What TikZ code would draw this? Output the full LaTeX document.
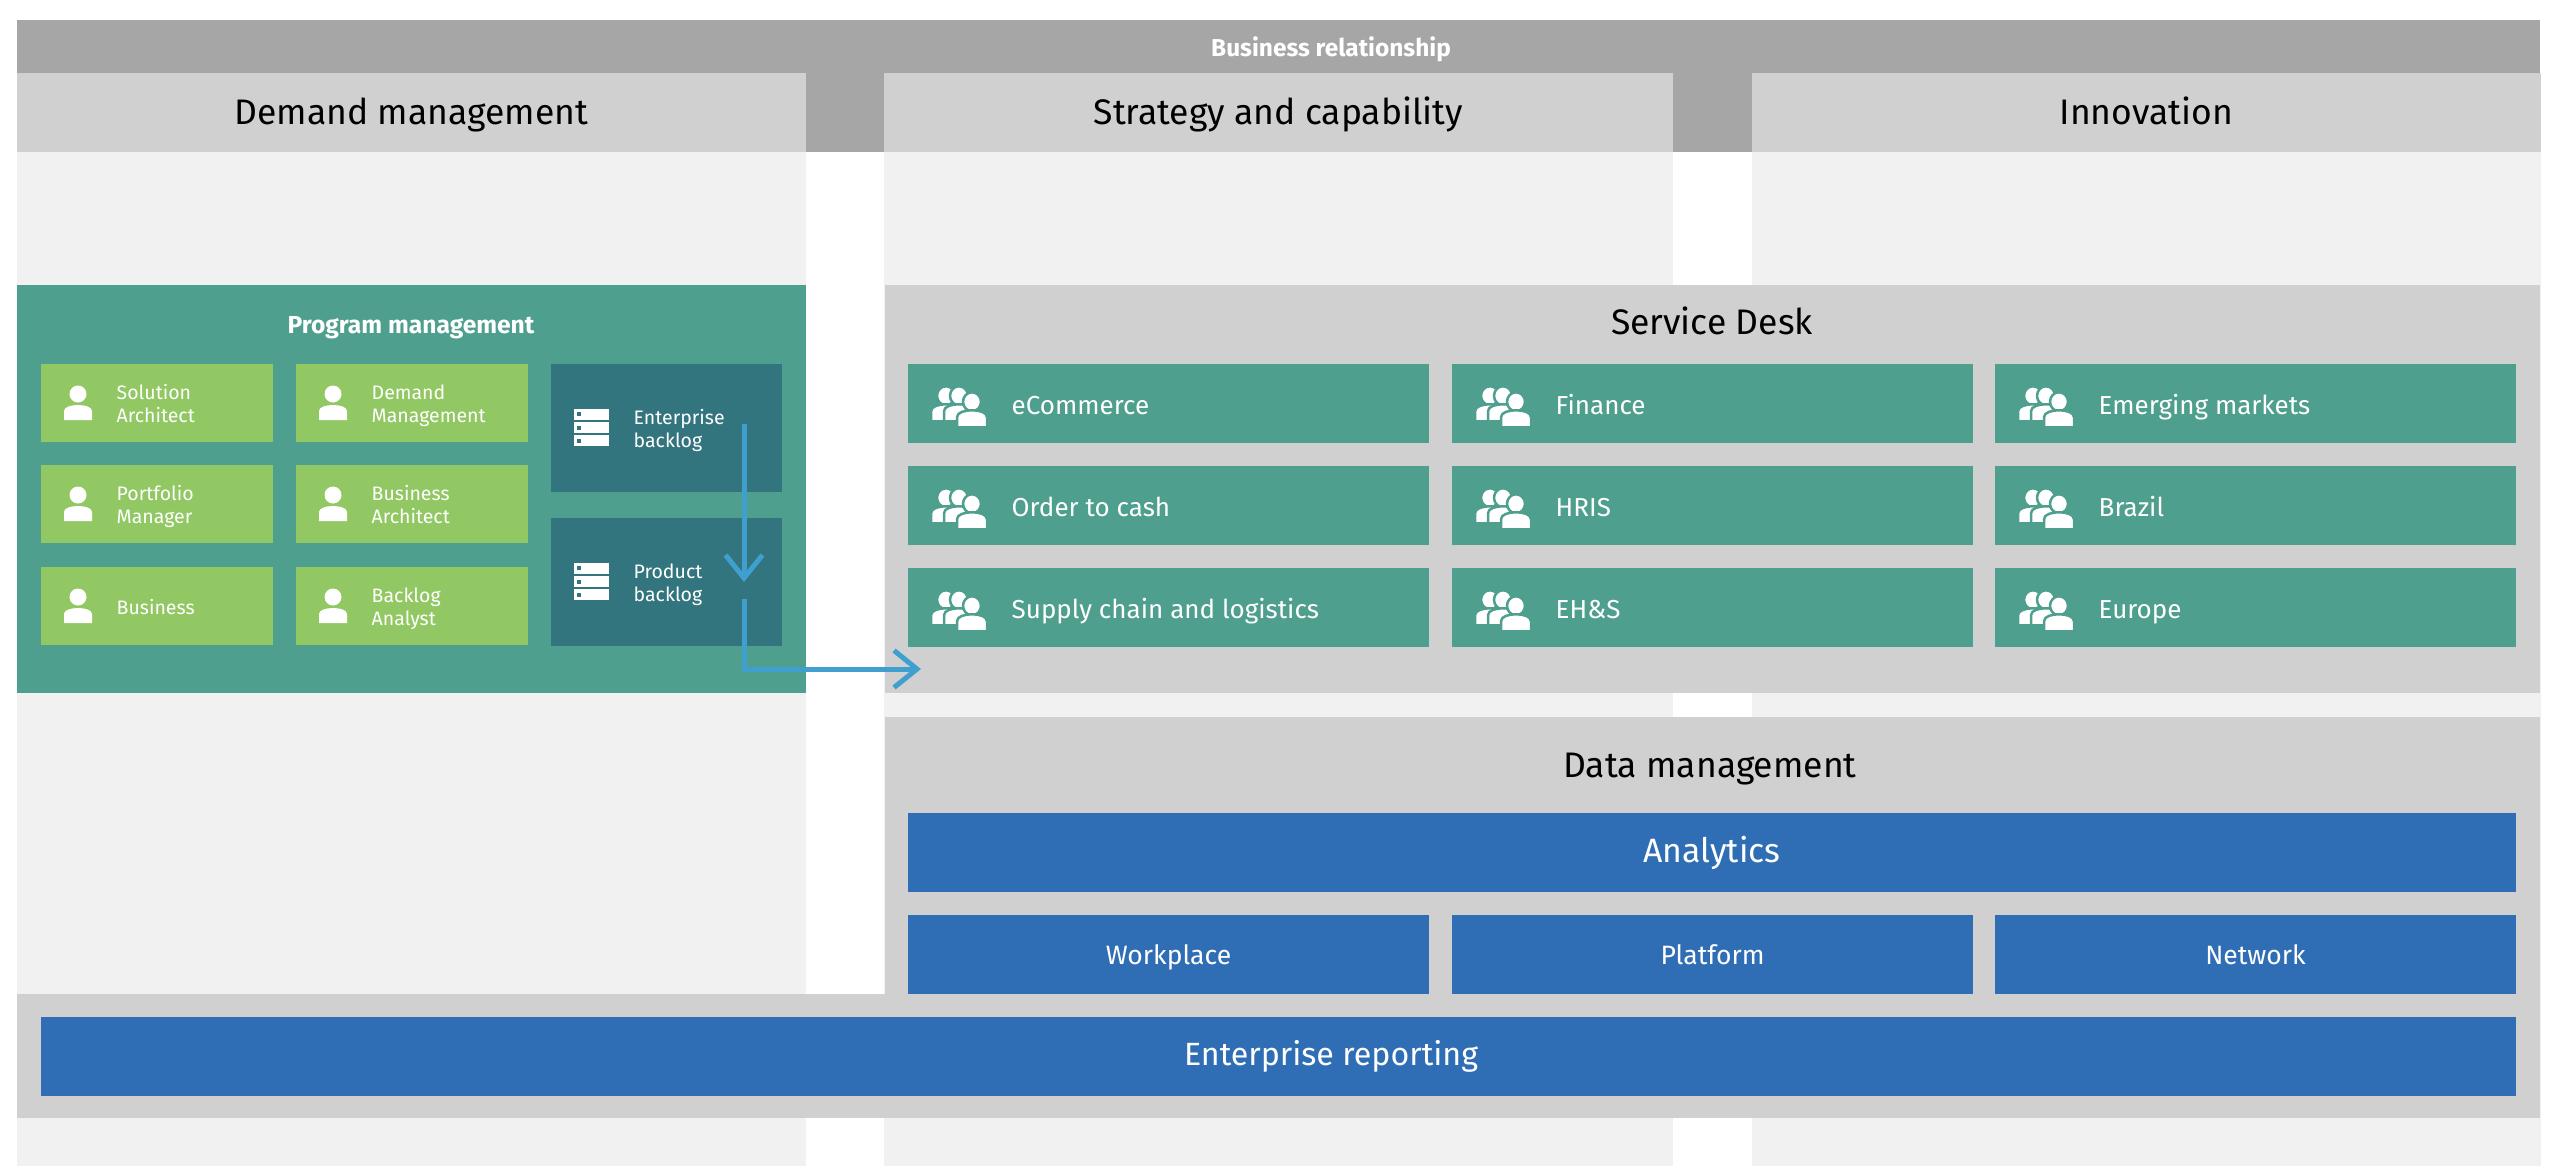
\documentclass[tikz,border=0pt]{standalone}
\usepackage{fontspec}
\setmainfont{Fira Sans}
\usetikzlibrary{arrows.meta,positioning}
\definecolor{BizDark}{HTML}{A6A6A6}
\definecolor{BizMid}{HTML}{D0D0D0}
\definecolor{BizLight}{HTML}{F1F1F1}
\definecolor{BizTeal}{HTML}{4E9F8D}
\definecolor{BizGreen}{HTML}{92C863}
\definecolor{BizDeep}{HTML}{33757E}
\definecolor{BizBlue}{HTML}{2F6EB5}
\definecolor{BizArrow}{HTML}{3F9FCF}
\tikzset{
  biz/panel/.style={
    rectangle,
    inner sep=0pt,
    outer sep=0pt,
    anchor=north west,
    align=center,
    fill=#1
  },
  biz/column/.style={biz/panel=BizLight, minimum width=7.885cm, minimum height=10.14cm},
  biz/header/.style={biz/panel=BizMid, minimum width=7.885cm, minimum height=0.79cm, text=black, text height=0.7em, text depth=0pt, font=\fontsize{10.1}{11}\selectfont},
  biz/role/.style={biz/panel=BizGreen, minimum width=2.315cm, minimum height=0.78cm},
  biz/backlog/.style={biz/panel=BizDeep, minimum width=2.31cm, minimum height=1.275cm},
  biz/team/.style={biz/panel=BizTeal, minimum width=5.21cm, minimum height=0.785cm},
  biz/stack/.style={biz/panel=BizBlue, minimum width=5.21cm, minimum height=0.79cm, text=white, text height=0.56em, text depth=0pt, font=\fontsize{7.55}{9}\selectfont},
  biz/title/.style={inner sep=0pt, text=black, text height=0.7em, text depth=0pt, font=\fontsize{10.1}{11}\selectfont},
  biz/boldtitle/.style={inner sep=0pt, text=white, text height=0.7em, text depth=0pt, font=\fontsize{7}{8}\selectfont\bfseries},
  biz/rolelabel/.style={inner sep=0pt, anchor=west, yshift=-0.05cm, text=white, align=left, text depth=0.25em, font=\fontsize{5.55}{6.55}\selectfont},
  biz/teamlabel/.style={inner sep=0pt, anchor=west, yshift=-0.01cm, text=white, text height=0.56em, text depth=0pt, font=\fontsize{7.4}{9}\selectfont},
  biz/arrow/.style={-{Straight Barb[length=2.3mm,width=3.7mm]}, line width=0.5mm, draw=BizArrow},
  usericon/.pic={
    \fill[white] (0,0.09) ellipse (0.085 and 0.085);
    \fill[white] (-0.14,-0.17) -- (-0.14,-0.08) .. controls (-0.14,-0.04) and (-0.07,-0.02) .. (0,-0.02)
      .. controls (0.07,-0.02) and (0.14,-0.04) .. (0.14,-0.08) -- (0.14,-0.17) -- cycle;
  },
  personhalo/.pic={
    \filldraw[white,draw=BizTeal,line width=0.25mm] (0,0.075) ellipse (0.09 and 0.095);
    \filldraw[white,draw=BizTeal,line width=0.25mm] (-0.15,-0.18) -- (-0.15,-0.08) .. controls (-0.15,-0.03) and (-0.07,-0.01) .. (0,-0.01)
      .. controls (0.07,-0.01) and (0.15,-0.03) .. (0.15,-0.08) -- (0.15,-0.18) -- cycle;
  },
  teamicon/.pic={
    \pic at (-0.13,0) {personhalo};
    \pic at (0,0) {personhalo};
    \pic at (0.13,-0.06) {personhalo};
  },
  servericon/.pic={
    \foreach \rowy in {0.135,0,-0.13} {
      \fill[white] (-0.175,\rowy-0.055) rectangle (0.175,\rowy+0.055);
      \fill[BizDeep] (-0.15,\rowy-0.022) rectangle (-0.105,\rowy+0.022);
    }
  }
}
\begin{document}
\begin{tikzpicture}[x=1cm,y=1cm]
  \useasboundingbox (0,0) rectangle (25.6,-11.68);
  % columns
  \node[biz/column] (democol) at (0.17,-1.52) {};
  \node[biz/column] (stratcol) at (8.84,-1.52) {};
  \node[biz/column] (innovcol) at (17.52,-1.52) {};
  % top band
  \node[biz/panel=BizDark,minimum width=25.23cm,minimum height=0.53cm] (bizbar) at (0.17,-0.2) {};
  \node[biz/boldtitle,font=\fontsize{6.95}{8}\selectfont\bfseries] (biztitle) at (13.31,-0.44) {Business relationship};
  \node[biz/panel=BizDark,minimum width=0.8cm,minimum height=0.8cm] (gapa) at (8.05,-0.72) {};
  \node[biz/panel=BizDark,minimum width=0.81cm,minimum height=0.8cm] (gapb) at (16.72,-0.72) {};
  \node[biz/header] (demhead) at (0.17,-0.73) {Demand management};
  \node[biz/header] (strathead) at (8.84,-0.73) {Strategy and capability};
  \node[biz/header] (innovhead) at (17.52,-0.73) {Innovation};
  % program management
  \node[biz/panel=BizTeal,minimum width=7.885cm,minimum height=4.08cm] (progpanel) at (0.17,-2.85) {};
  \node[biz/boldtitle] (progtitle) at (4.11,-3.21) {Program management};
  \node[biz/role] (solarch) at (0.41,-3.64) {};
  \node[biz/role] (demmgmt) at (2.96,-3.64) {};
  \node[biz/role] (portfolio) at (0.41,-4.65) {};
  \node[biz/role] (busarch) at (2.96,-4.65) {};
  \node[biz/role] (business) at (0.41,-5.67) {};
  \node[biz/role] (analyst) at (2.96,-5.67) {};
  \pic at ([xshift=0.37cm]solarch.west) {usericon};
  \pic at ([xshift=0.37cm]demmgmt.west) {usericon};
  \pic at ([xshift=0.37cm]portfolio.west) {usericon};
  \pic at ([xshift=0.37cm]busarch.west) {usericon};
  \pic at ([xshift=0.37cm]business.west) {usericon};
  \pic at ([xshift=0.37cm]analyst.west) {usericon};
  \node[biz/rolelabel] (solarchtext) at ([xshift=0.75cm]solarch.west) {Solution\\Architect};
  \node[biz/rolelabel] (demmgmttext) at ([xshift=0.75cm]demmgmt.west) {Demand\\Management};
  \node[biz/rolelabel] (portfoliotext) at ([xshift=0.75cm]portfolio.west) {Portfolio\\Manager};
  \node[biz/rolelabel] (busarchtext) at ([xshift=0.75cm]busarch.west) {Business\\Architect};
  \node[biz/rolelabel] (businesstext) at ([xshift=0.75cm]business.west) {Business};
  \node[biz/rolelabel] (analysttext) at ([xshift=0.75cm]analyst.west) {Backlog\\Analyst};
  \node[biz/backlog] (entback) at (5.51,-3.64) {};
  \node[biz/backlog] (prodback) at (5.51,-5.18) {};
  \pic at ([xshift=0.405cm]entback.west) {servericon};
  \pic at ([xshift=0.405cm]prodback.west) {servericon};
  \node[biz/rolelabel] (entbacktext) at ([xshift=0.82cm]entback.west) {Enterprise\\backlog};
  \node[biz/rolelabel] (prodbacktext) at ([xshift=0.82cm]prodback.west) {Product\\backlog};
  % service desk
  \node[biz/panel=BizMid,minimum width=16.55cm,minimum height=4.08cm] (sdpanel) at (8.85,-2.85) {};
  \node[biz/title] (sdtitle) at (17.12,-3.22) {Service Desk};
  \node[biz/team] (ecom) at (9.08,-3.64) {};
  \node[biz/team] (finance) at (14.52,-3.64) {};
  \node[biz/team] (emerging) at (19.95,-3.64) {};
  \node[biz/team] (order) at (9.08,-4.66) {};
  \node[biz/team] (hris) at (14.52,-4.66) {};
  \node[biz/team] (brazil) at (19.95,-4.66) {};
  \node[biz/team] (supply) at (9.08,-5.68) {};
  \node[biz/team] (ehs) at (14.52,-5.68) {};
  \node[biz/team] (europe) at (19.95,-5.68) {};
  \pic at ([xshift=0.51cm]ecom.west) {teamicon};
  \pic at ([xshift=0.51cm]finance.west) {teamicon};
  \pic at ([xshift=0.51cm]emerging.west) {teamicon};
  \pic at ([xshift=0.51cm]order.west) {teamicon};
  \pic at ([xshift=0.51cm]hris.west) {teamicon};
  \pic at ([xshift=0.51cm]brazil.west) {teamicon};
  \pic at ([xshift=0.51cm]supply.west) {teamicon};
  \pic at ([xshift=0.51cm]ehs.west) {teamicon};
  \pic at ([xshift=0.51cm]europe.west) {teamicon};
  \node[biz/teamlabel] (ecomtext) at ([xshift=1.03cm]ecom.west) {eCommerce};
  \node[biz/teamlabel] (financetext) at ([xshift=1.03cm]finance.west) {Finance};
  \node[biz/teamlabel] (emergingtext) at ([xshift=1.03cm]emerging.west) {Emerging markets};
  \node[biz/teamlabel] (ordertext) at ([xshift=1.03cm]order.west) {Order to cash};
  \node[biz/teamlabel] (hristext) at ([xshift=1.03cm]hris.west) {HRIS};
  \node[biz/teamlabel] (braziltext) at ([xshift=1.03cm]brazil.west) {Brazil};
  \node[biz/teamlabel] (supplytext) at ([xshift=1.03cm]supply.west) {Supply chain and logistics};
  \node[biz/teamlabel] (ehstext) at ([xshift=1.03cm]ehs.west) {EH\&S};
  \node[biz/teamlabel] (europetext) at ([xshift=1.03cm]europe.west) {Europe};
  % data management
  \node[biz/panel=BizMid,minimum width=16.55cm,minimum height=2.78cm] (datapanel) at (8.85,-7.17) {};
  \node[biz/title] (datatitle) at (17.1,-7.65) {Data management};
  \node[biz/stack,minimum width=16.08cm,font=\fontsize{9.6}{11}\selectfont] (analytics) at (9.08,-8.13) {Analytics};
  \node[biz/stack] (workplace) at (9.08,-9.15) {Workplace};
  \node[biz/stack] (platform) at (14.52,-9.15) {Platform};
  \node[biz/stack] (network) at (19.95,-9.15) {Network};
  % reporting
  \node[biz/panel=BizMid,minimum width=25.23cm,minimum height=1.24cm] (reportband) at (0.17,-9.94) {};
  \node[biz/stack,minimum width=24.75cm] (reporting) at (0.41,-10.17) {};
  \node[biz/teamlabel,anchor=center,font=\fontsize{9.15}{11}\selectfont] (reportingtext) at (13.31,-10.55) {Enterprise reporting};
  % flow
  \coordinate (entout) at (7.44,-4.24);
  \coordinate (prodin) at (7.44,-5.82);
  \coordinate (prodout) at (7.44,-5.99);
  \coordinate (sdin) at (9.21,-6.69);
  \draw[biz/arrow] (entout) -- (prodin);
  \draw[biz/arrow] (prodout) |- (sdin);
\end{tikzpicture}
\end{document}
